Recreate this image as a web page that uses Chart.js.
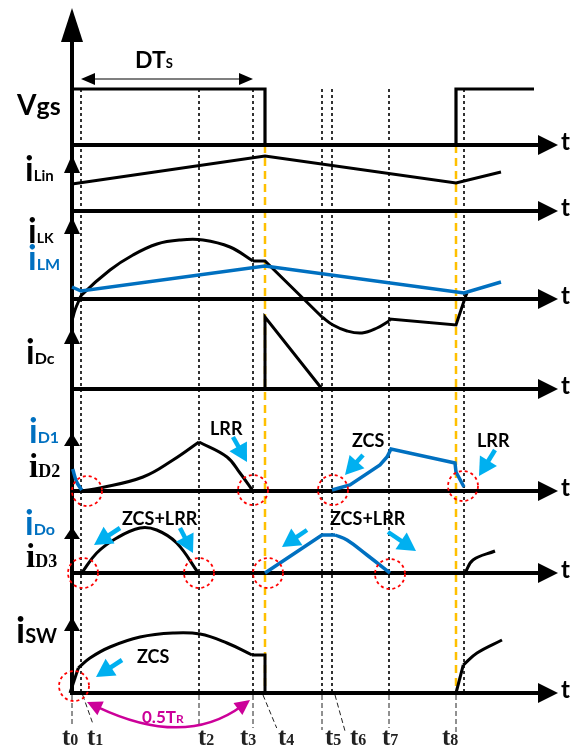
<!DOCTYPE html>
<html><head><meta charset="utf-8">
<script src="https://cdn.jsdelivr.net/npm/chart.js@4.4.1/dist/chart.umd.min.js"></script>
<style>html,body{margin:0;padding:0;background:#fff;overflow:hidden}canvas{display:block}</style>
</head><body>
<canvas id="c" width="573" height="747"></canvas>
<script>
// ===== DATA (time: units after t0; values: amplitude above each trace's zero line) =====
const instantNames = ['0','1','2','3','4','5','6','7','8'];
const instantTimes = [0, 9, 127, 181, 193, 250, 260, 317, 384];
const nextT1 = 392;

const vgsT = [0, 0, 193, 193, 384, 384, 462];
const vgsV = [0, 56, 56, 0, 0, 56, 56];

const iLinT = [0, 193, 384, 429];
const iLinV = [27, 55, 28, 39];

const iLmT = [0, 9, 193, 392, 429];
const iLmV = [12, 8, 33, 6, 17];

const iLkRiseT = [0.7, 3, 6.3, 9.7, 38, 61, 85, 108, 131, 158, 181];
const iLkRiseV = [-19, -11, -3, 4, 29, 44, 55, 59, 59, 52, 38];
const iLkFallT = [181, 193, 250];
const iLkFallV = [38, 38, -18];
const iLkDipT = [250, 261, 275, 290, 305, 317];
const iLkDipV = [-18, -26, -32, -34, -29, -22];
const iLkTailT = [317, 318, 384, 393, 395];
const iLkTailV = [-22, -20, -26, 1, 6];

const iDcT = [193, 193, 250];
const iDcV = [0, 72, 0];

const iD1aT = [0.7, 4.7, 9.7];
const iD1aV = [22, 9, 1];
const iD1bT = [260, 278, 308, 315, 319, 383, 384, 392];
const iD1bV = [1, 6, 26, 34, 42, 28, 19, 4];

const iD2RiseT = [9.7, 28, 71, 101, 127];
const iD2RiseV = [0, 3, 14, 31, 49];
const iD2FallT = [127, 155, 168, 181];
const iD2FallV = [49, 34, 18, 0];

const iD3aT = [9.7, 24.7, 44.7, 68, 84.7, 104.7, 126.3];
const iD3aV = [0, 20, 35, 45, 43, 30, 0];
const iD3bT = [393, 401, 423];
const iD3bV = [0, 13, 22];

const iDoRampT = [193, 250, 263];
const iDoRampV = [0, 38, 38];
const iDoFallT = [263, 275, 295, 318];
const iDoFallV = [38, 33, 18, 0];

const iSwEdgeT = [-2, 6.3];
const iSwEdgeV = [0, 25];
const iSwArcT = [6.3, 18, 38, 68, 101, 128, 155, 180];
const iSwArcV = [25, 35, 46, 56, 60, 59, 50, 38];
const iSwEndT = [180, 193, 193];
const iSwEndV = [38, 38, 0];
const iSwNextEdgeT = [384, 391.3];
const iSwNextEdgeV = [0, 28];
const iSwNextArcT = [391.3, 405, 430];
const iSwNextArcV = [28, 40, 53];

// ===== LAYOUT / STYLE =====
const ROW = {vgs:145, iLin:211, iLK:299, iDc:389, iD12:491, iD3:573, iSW:693};
const BLACK='#000', BLUE='#0070c0', CYAN='#00b0f0', RED='#ff0000', YEL='#ffc000', MAG='#cc0099';
const SANS='Lato, "Open Sans", sans-serif', SERIF='"Liberation Serif", "DejaVu Serif", serif';

function P(T,V,row){ return T.map((t,i)=>({x:t, y:-row+V[i]})); }
function wave(T,V,row,color,tension,w){
  return {data:P(T,V,row), showLine:true, borderColor:color, borderWidth:w||3, tension:tension||0,
          pointRadius:0, fill:false, order:1, borderJoinStyle:'miter'};
}
function seg(x1,y1,x2,y2,color,w,dash,order){
  return {data:[{x:x1,y:y1},{x:x2,y:y2}], showLine:true, borderColor:color, borderWidth:w,
          borderDash:dash||[], pointRadius:0, fill:false, order:order, tension:0};
}

const datasets = [];
datasets.push(wave(vgsT,vgsV,ROW.vgs,BLACK,0,3.2));
datasets.push(wave(iLinT,iLinV,ROW.iLin,BLACK,0));
datasets.push(wave(iLmT,iLmV,ROW.iLK,BLUE,0,3.5));
datasets.push(wave(iLkRiseT,iLkRiseV,ROW.iLK,BLACK,0.4));
datasets.push(wave(iLkFallT,iLkFallV,ROW.iLK,BLACK,0));
datasets.push(wave(iLkDipT,iLkDipV,ROW.iLK,BLACK,0.4));
datasets.push(wave(iLkTailT,iLkTailV,ROW.iLK,BLACK,0));
datasets.push(wave(iDcT,iDcV,ROW.iDc,BLACK,0));
datasets.push(wave(iD1aT,iD1aV,ROW.iD12,BLUE,0.4,3.5));
datasets.push(wave(iD1bT,iD1bV,ROW.iD12,BLUE,0,3.5));
datasets.push(wave(iD2RiseT,iD2RiseV,ROW.iD12,BLACK,0.4));
datasets.push(wave(iD2FallT,iD2FallV,ROW.iD12,BLACK,0.4));
datasets.push(wave(iD3aT,iD3aV,ROW.iD3,BLACK,0.4));
datasets.push(wave(iD3bT,iD3bV,ROW.iD3,BLACK,0.4));
datasets.push(wave(iDoRampT,iDoRampV,ROW.iD3,BLUE,0,3.5));
datasets.push(wave(iDoFallT,iDoFallV,ROW.iD3,BLUE,0.4,3.5));
datasets.push(wave(iSwEdgeT,iSwEdgeV,ROW.iSW,BLACK,0));
datasets.push(wave(iSwArcT,iSwArcV,ROW.iSW,BLACK,0.4));
datasets.push(wave(iSwEndT,iSwEndV,ROW.iSW,BLACK,0));
datasets.push(wave(iSwNextEdgeT,iSwNextEdgeV,ROW.iSW,BLACK,0));
datasets.push(wave(iSwNextArcT,iSwNextArcV,ROW.iSW,BLACK,0.4));

// axes
datasets.push(seg(0,-28,0,-ROW.iSW-2,BLACK,4,[],5));
Object.values(ROW).forEach(r=>datasets.push(seg(0,-r,472,-r,BLACK,4,[],5)));

// guide lines
[instantTimes[1],instantTimes[2],instantTimes[3],instantTimes[5],instantTimes[6],instantTimes[7],nextT1]
  .forEach(t=>datasets.push(seg(t,-89,t,-ROW.iSW,BLACK,1.6,[3,3],10)));
[instantTimes[4],instantTimes[8]].forEach(t=>datasets.push(seg(t,-ROW.vgs,t,-ROW.iSW,YEL,2.5,[8,5],9)));
const leaders = [[0,0,727],[10.7,21.3,725],[127,127,725],[181,181,728],[191,204.7,728],[250,250,730],[263,273,731],[317,317,728],[384,384,733]];
leaders.forEach(l=>datasets.push(seg(l[0],-ROW.iSW-2,l[1],-l[2],'#222',1,[5,3],10)));

function head(ctx,x1,y1,x2,y2,len,hw,color){
  const a=Math.atan2(y2-y1,x2-x1), c=Math.cos(a), s=Math.sin(a);
  ctx.fillStyle=color; ctx.beginPath(); ctx.moveTo(x2,y2);
  ctx.lineTo(x2-len*c+hw*s, y2-len*s-hw*c);
  ctx.lineTo(x2-len*c-hw*s, y2-len*s+hw*c);
  ctx.closePath(); ctx.fill();
}
function arrow(ctx,x1,y1,x2,y2,w,len,hw,color){
  const a=Math.atan2(y2-y1,x2-x1);
  ctx.strokeStyle=color; ctx.lineWidth=w; ctx.setLineDash([]); ctx.lineCap='butt';
  ctx.beginPath(); ctx.moveTo(x1,y1); ctx.lineTo(x2-len*0.8*Math.cos(a), y2-len*0.8*Math.sin(a)); ctx.stroke();
  head(ctx,x1,y1,x2,y2,len,hw,color);
}
function label(ctx,x,y,parts){
  let cx=x;
  for(const [t,f,c] of parts){ ctx.font=f; ctx.fillStyle=c; ctx.fillText(t,cx,y); cx+=ctx.measureText(t).width; }
}

const overlay = {
  id:'overlay',
  afterDatasetsDraw(chart){
    const ctx=chart.ctx, sx=chart.scales.x, sy=chart.scales.y;
    const X=t=>sx.getPixelForValue(t);
    const Y=(row,a)=>sy.getPixelForValue(-row+(a||0));
    ctx.save();
    ctx.textBaseline='alphabetic'; ctx.textAlign='left';
    const vHeads=[[ROW.vgs,137,34,11],[ROW.iLin,56,18,8],[ROW.iLK,82,17,8],[ROW.iDc,61,16,8],[ROW.iD12,58,13,8],[ROW.iD3,46,12,8],[ROW.iSW,76,14,8]];
    vHeads.forEach(h=>head(ctx,X(0),Y(h[0],0),X(0),Y(h[0],h[1]),h[2],h[3],BLACK));
    Object.values(ROW).forEach(r=>{
      head(ctx,X(460),Y(r),X(486),Y(r),20,10,BLACK);
      label(ctx,X(489),Y(r,-5),[['t','bold 24px '+SANS,BLACK]]);
    });
    ctx.strokeStyle=BLACK; ctx.lineWidth=1.2; ctx.setLineDash([]);
    ctx.beginPath(); ctx.moveTo(X(15),Y(ROW.vgs,66)); ctx.lineTo(X(175),Y(ROW.vgs,66)); ctx.stroke();
    head(ctx,X(100),Y(ROW.vgs,66),X(9),Y(ROW.vgs,66),14,6,BLACK);
    head(ctx,X(100),Y(ROW.vgs,66),X(181),Y(ROW.vgs,66),14,6,BLACK);
    label(ctx,X(63),Y(ROW.vgs,77),[['DT','bold 23px '+SANS,BLACK],['S','bold 13px '+SANS,BLACK]]);
    const B='bold ';
    label(ctx,17,Y(ROW.vgs,30),[['V',B+'28px '+SANS,BLACK],['gs',B+'25px '+SANS,BLACK]]);
    label(ctx,25,Y(ROW.iLin,30),[['i',B+'34px '+SANS,BLACK],['Lin',B+'15px '+SANS,BLACK]]);
    label(ctx,28,Y(ROW.iLK,56),[['i',B+'34px '+SANS,BLACK],['LK',B+'14px '+SANS,BLACK]]);
    label(ctx,28,Y(ROW.iLK,29),[['i',B+'34px '+SANS,BLUE],['LM',B+'16px '+SANS,BLUE]]);
    label(ctx,26,Y(ROW.iDc,25),[['i',B+'34px '+SANS,BLACK],['Dc',B+'16px '+SANS,BLACK]]);
    label(ctx,29,Y(ROW.iD12,48),[['i',B+'34px '+SANS,BLUE],['D1',B+'16px '+SANS,BLUE]]);
    label(ctx,29,Y(ROW.iD12,14),[['i',B+'33px '+SERIF,BLACK],['D2',B+'18px '+SERIF,BLACK]]);
    label(ctx,25,Y(ROW.iD3,38),[['i',B+'34px '+SANS,BLUE],['Do',B+'16px '+SANS,BLUE]]);
    label(ctx,26,Y(ROW.iD3,6),[['i',B+'33px '+SERIF,BLACK],['D3',B+'18px '+SERIF,BLACK]]);
    label(ctx,16,Y(ROW.iSW,50),[['i',B+'36px '+SANS,BLACK],['SW',B+'20px '+SANS,BLACK]]);
    const circles=[[ROW.iD12,15,0],[ROW.iD12,181,1],[ROW.iD12,261,1],[ROW.iD12,391,5],
                   [ROW.iD3,11,0],[ROW.iD3,127,0],[ROW.iD3,196,0],[ROW.iD3,318,-1],[ROW.iSW,2,7]];
    ctx.strokeStyle=RED; ctx.lineWidth=1.8; ctx.setLineDash([3,3]);
    circles.forEach(c=>{ctx.beginPath(); ctx.arc(X(c[1]),Y(c[0],c[2]),15,0,Math.PI*2); ctx.stroke();});
    ctx.setLineDash([]);
    const cy=[[ROW.iD12,161,54,175,29],[ROW.iD12,291,36,273,16],[ROW.iD12,423,41,407,15],
              [ROW.iD3,48,45,22,28],[ROW.iD3,108,45,121,20],[ROW.iD3,235,43,210,26],[ROW.iD3,316,41,344,22],
              [ROW.iSW,50,33,24,16]];
    cy.forEach(a=>arrow(ctx,X(a[1]),Y(a[0],a[2]),X(a[3]),Y(a[0],a[4]),4.5,18,10,CYAN));
    const F='bold 18px '+SANS;
    label(ctx,X(138),Y(ROW.iD12,56),[['LRR',F,BLACK]]);
    label(ctx,X(280),Y(ROW.iD12,44),[['ZCS',F,BLACK]]);
    label(ctx,X(405),Y(ROW.iD12,44),[['LRR',F,BLACK]]);
    label(ctx,X(50),Y(ROW.iD3,48),[['ZCS+LRR',F,BLACK]]);
    label(ctx,X(258),Y(ROW.iD3,48),[['ZCS+LRR',F,BLACK]]);
    label(ctx,X(65),Y(ROW.iSW,30),[['ZCS',F,BLACK]]);
    const p0={x:X(15),y:Y(ROW.iSW,-9)}, c0={x:X(113),y:Y(ROW.iSW,-55)}, p2={x:X(178),y:Y(ROW.iSW,-7)};
    ctx.strokeStyle=MAG; ctx.lineWidth=2.5;
    ctx.beginPath();
    const s0={x:p0.x+(c0.x-p0.x)*0.12,y:p0.y+(c0.y-p0.y)*0.12}, s2={x:p2.x+(c0.x-p2.x)*0.12,y:p2.y+(c0.y-p2.y)*0.12};
    ctx.moveTo(s0.x,s0.y); ctx.quadraticCurveTo(c0.x,c0.y,s2.x,s2.y); ctx.stroke();
    head(ctx,c0.x,c0.y,p0.x,p0.y,15,7.5,MAG);
    head(ctx,c0.x,c0.y,p2.x,p2.y,15,7.5,MAG);
    label(ctx,X(70),Y(ROW.iSW,-30),[['0.5T','bold 17px '+SANS,MAG],['R','bold 12px '+SANS,MAG]]);
    const lblT=[-10,15,126,168,206,253,278,310,370];
    instantNames.forEach((n,i)=>label(ctx,X(lblT[i]),745,[['t','bold 25px '+SERIF,'#222'],[n,'bold 16px '+SERIF,'#222']]));
    ctx.restore();
  }
};

new Chart(document.getElementById('c'),{
  type:'scatter',
  data:{datasets},
  options:{
    responsive:false, animation:false, devicePixelRatio:1, events:[],
    layout:{padding:0},
    plugins:{legend:{display:false}, tooltip:{enabled:false}},
    scales:{
      x:{type:'linear', min:-72, max:501, display:false},
      y:{type:'linear', min:-747, max:0, display:false}
    }
  },
  plugins:[overlay]
});
</script>
</body></html>
